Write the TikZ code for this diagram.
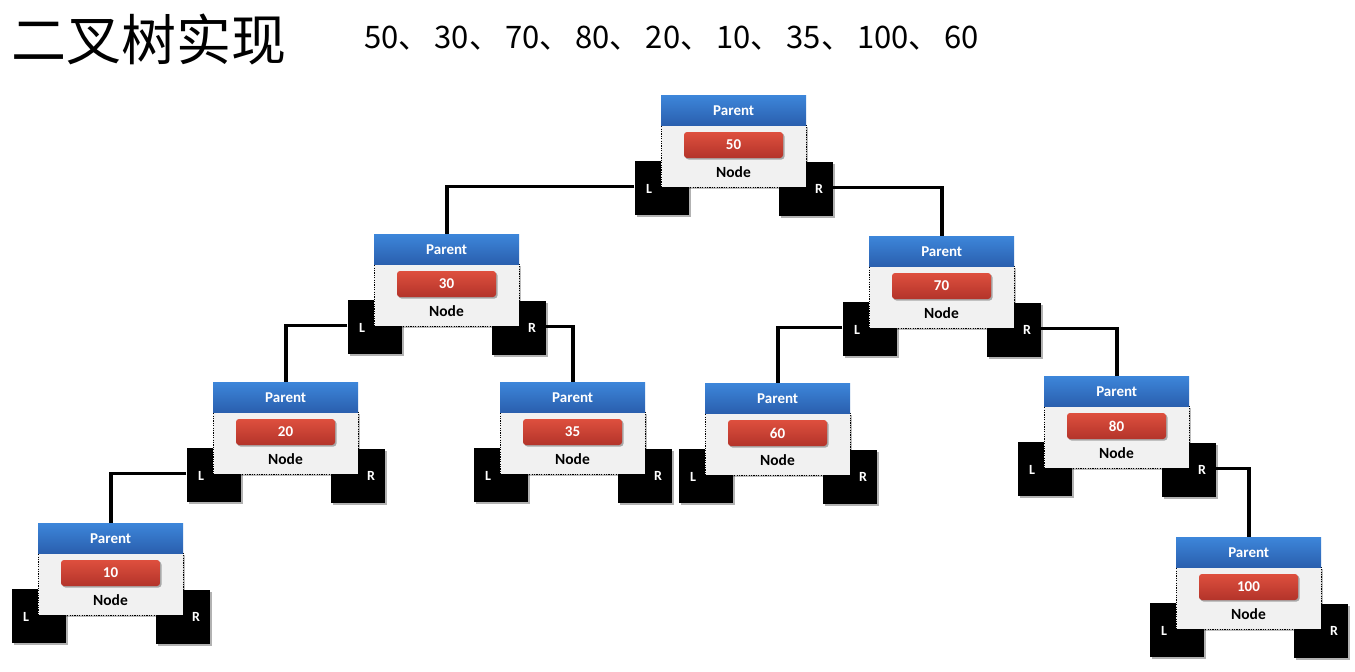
\documentclass[tikz,border=0pt]{standalone}
\usepackage{fontspec}
\setmainfont{Carlito}
\newfontfamily\cjk{Noto Sans CJK SC}
\usetikzlibrary{shadows}
\definecolor{hdrtop}{HTML}{3D86DA}
\definecolor{hdrbot}{HTML}{2A5FAE}
\definecolor{valtop}{HTML}{DE4F3E}
\definecolor{valbot}{HTML}{B3342A}
\definecolor{bodyfill}{HTML}{F1F1F1}
\newcommand{\seqsep}{、\hspace{5pt}}
\tikzset{
  hdr/.style={anchor=north west, minimum width=145pt, minimum height=30pt, inner sep=0pt,
    top color=hdrtop, bottom color=hdrbot, draw=none, text=white, font=\bfseries\fontsize{15}{15}\selectfont},
  nbody/.style={anchor=north west, minimum width=145pt, minimum height=62pt, inner sep=0pt,
    fill=bodyfill, draw=black, line width=0.7pt, dash pattern=on 1.2pt off 1.2pt,
    drop shadow={shadow xshift=1.5pt, shadow yshift=-1.5pt, opacity=0.25, fill=black}},
  nval/.style={minimum width=99pt, minimum height=26pt, inner sep=0pt, rounded corners=3pt,
    top color=valtop, bottom color=valbot, text=white, font=\bfseries\fontsize{15}{15}\selectfont,
    drop shadow={shadow xshift=1.5pt, shadow yshift=-1.5pt, opacity=0.3, fill=black}},
  nlbl/.style={inner sep=0pt, font=\bfseries\fontsize{15.5}{15.5}\selectfont},
  lrbox/.style={minimum width=54pt, minimum height=54pt, inner sep=0pt, fill=black,
    drop shadow={shadow xshift=2pt, shadow yshift=-2pt, opacity=0.3, fill=black}},
  lrtext/.style={inner sep=0pt, text=white, font=\bfseries\fontsize{14}{14}\selectfont},
  conn/.style={line width=3.6pt, draw=black}
}
\newcommand{\treenode}[4]{%
  \node[lrbox] (#1L) at (#2+0.5, #3+93) {};
  \node[lrbox] (#1R) at (#2+144.5, #3+94) {};
  \node[nbody] (#1b) at (#2, #3+30) {};
  \node[hdr] (#1h) at (#2, #3) {Parent};
  \node[nval] (#1v) at (#2+72.5, #3+50) {#4};
  \node[nlbl] (#1n) at (#2+72.5, #3+77) {Node};
  \node[lrtext] (#1Lt) at (#2-12, #3+94) {L};
  \node[lrtext] (#1Rt) at (#2+158, #3+94) {R};
}
\begin{document}
\begin{tikzpicture}[x=1pt, y=-1pt]
\useasboundingbox[fill=white] (0,0) rectangle (1355,672);
\node[anchor=base west, inner sep=0pt, font=\cjk\fontsize{55}{55}\selectfont] (title) at (11,60) {二叉树实现};
\node[anchor=base west, inner sep=0pt, font=\cjk\fontsize{31}{31}\selectfont] (seq) at (364,48) {50\seqsep 30\seqsep 70\seqsep 80\seqsep 20\seqsep 10\seqsep 35\seqsep 100\seqsep 60};
\treenode{a}{661}{95}{50}
\treenode{b}{374}{234}{30}
\treenode{c}{869}{236}{70}
\treenode{d}{213}{382}{20}
\treenode{e}{500}{382}{35}
\treenode{f}{705}{383}{60}
\treenode{g}{1044}{376}{80}
\treenode{h}{38}{523}{10}
\treenode{i}{1176}{537}{100}
\draw[conn] ([yshift=1.5pt]aL.west) -| (bh.north);
\draw[conn] ([yshift=1.5pt]aR.east) -| (ch.north);
\draw[conn] ([yshift=1.5pt]bL.west) -| (dh.north);
\draw[conn] ([yshift=1.5pt]bR.east) -| (eh.north);
\draw[conn] ([yshift=1.5pt]cL.west) -| (fh.north);
\draw[conn] ([yshift=1.5pt]cR.east) -| (gh.north);
\draw[conn] ([yshift=1.5pt]dL.west) -| (hh.north);
\draw[conn] ([yshift=1.5pt]gR.east) -| (ih.north);
\end{tikzpicture}
\end{document}
